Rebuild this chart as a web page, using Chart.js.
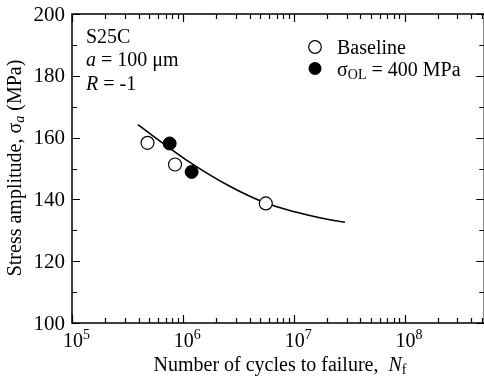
<!DOCTYPE html>
<html>
<head>
<meta charset="utf-8">
<script src="https://cdn.jsdelivr.net/npm/chart.js@4/dist/chart.umd.min.js"></script>
<style>
html,body{margin:0;padding:0;background:#fff;overflow:hidden;}
canvas{display:block;}
</style>
</head>
<body>
<canvas id="c" width="492" height="378"></canvas>
<script>
// ---- data ----
const baselineN = [4.8e5, 8.5e5, 5.6e6];
const baselineS = [158.3, 151.3, 138.7];
const overloadN = [7.6e5, 1.2e6];
const overloadS = [158.1, 148.9];
const fitN = [3.93e5, 6.6e5, 1.07e6, 2.6e6, 5.6e6, 1.04e7, 1.8e7, 2.9e7];
const fitS = [164.2, 158.2, 152.8, 144.4, 138.8, 135.9, 133.9, 132.6];
const yTickLabels = [100, 120, 140, 160, 180, 200];
const yMinorTicks = [110, 130, 150, 170, 190];
const xDecades = [5, 6, 7, 8];
const legendLabels = ['Baseline', 'σOL = 400 MPa'];

const FONT = '"Liberation Serif", "Times New Roman", serif';

function pts(xs, ys){ return xs.map((x,i)=>({x:x, y:ys[i]})); }

const decorPlugin = {
  id: 'decor',
  afterDraw(chart){
    const ctx = chart.ctx, ca = chart.chartArea;
    const xs = chart.scales.x, ys = chart.scales.y;
    ctx.save();
    ctx.strokeStyle = '#000'; ctx.fillStyle = '#000';
    ctx.lineWidth = 1.5;
    ctx.strokeRect(ca.left, ca.top, ca.right-ca.left, ca.bottom-ca.top);
    ctx.lineWidth = 1.2;
    const MAJ = 8, MIN = 5;
    function hTick(v, len){
      const y = Math.round(ys.getPixelForValue(v))+0.5;
      ctx.beginPath();
      ctx.moveTo(ca.left, y); ctx.lineTo(ca.left+len, y);
      ctx.moveTo(ca.right, y); ctx.lineTo(ca.right-len, y);
      ctx.stroke();
    }
    function vTick(v, len){
      const x = Math.round(xs.getPixelForValue(v))+0.5;
      if (x < ca.left-1 || x > ca.right+1) return;
      ctx.beginPath();
      ctx.moveTo(x, ca.bottom); ctx.lineTo(x, ca.bottom-len);
      ctx.moveTo(x, ca.top); ctx.lineTo(x, ca.top+len);
      ctx.stroke();
    }
    yTickLabels.forEach(v=>hTick(v, MAJ));
    yMinorTicks.forEach(v=>hTick(v, MIN));
    xDecades.forEach(d=>{
      vTick(Math.pow(10,d), MAJ);
      for (let m=2;m<=9;m++) vTick(m*Math.pow(10,d), MIN);
    });
    // y tick labels
    ctx.font = '21px ' + FONT;
    ctx.textAlign = 'right'; ctx.textBaseline = 'middle';
    yTickLabels.forEach(v=>{
      ctx.fillText(String(v), ca.left-7, ys.getPixelForValue(v)+1);
    });
    // x tick labels 10^n
    ctx.textBaseline = 'alphabetic';
    xDecades.forEach(d=>{
      const x = xs.getPixelForValue(Math.pow(10,d));
      ctx.font = '20px ' + FONT;
      ctx.textAlign = 'center';
      ctx.fillText('10', x+1, 347);
      const w = ctx.measureText('10').width;
      ctx.font = '14px ' + FONT;
      ctx.textAlign = 'left';
      ctx.fillText(String(d), x+1+w/2, 339);
    });
    function runs(parts, x, y, align){
      let total = 0;
      parts.forEach(p=>{ ctx.font = p.f; p.w = ctx.measureText(p.t).width; total += p.w; });
      let cx = align==='center' ? x-total/2 : x;
      ctx.textAlign = 'left';
      parts.forEach(p=>{ ctx.font = p.f; ctx.fillText(p.t, cx, y+(p.dy||0)); cx += p.w; });
    }
    const R = '20px ' + FONT, I = 'italic 20px ' + FONT, S = '14px ' + FONT;
    // x title
    runs([{t:'Number of cycles to failure,  ', f:R},{t:'N', f:I},{t:'f', f:S, dy:3}], 280, 371, 'center');
    // y title
    ctx.save();
    ctx.translate(21, 168);
    ctx.rotate(-Math.PI/2);
    runs([{t:'Stress amplitude, σ', f:R},{t:'a', f:'italic 14px '+FONT, dy:3},{t:' (MPa)', f:R}], 0, 0, 'center');
    ctx.restore();
    // annotations
    runs([{t:'S25C', f:R}], 86, 43, 'left');
    runs([{t:'a', f:I},{t:' = 100 μm', f:R}], 86, 66, 'left');
    runs([{t:'R', f:I},{t:' = -1', f:R}], 86, 90, 'left');
    // legend
    ctx.lineWidth = 1.2;
    ctx.beginPath(); ctx.arc(315, 47, 6.3, 0, Math.PI*2); ctx.fillStyle='#fff'; ctx.fill(); ctx.stroke();
    ctx.beginPath(); ctx.arc(315, 68.5, 6.5, 0, Math.PI*2); ctx.fillStyle='#000'; ctx.fill();
    ctx.fillStyle = '#000';
    runs([{t:legendLabels[0], f:R}], 337, 54, 'left');
    runs([{t:'σ', f:R},{t:'OL', f:S, dy:3},{t:' = 400 MPa', f:R}], 337, 76, 'left');
    ctx.restore();
  }
};

new Chart(document.getElementById('c'), {
  type: 'scatter',
  data: {
    datasets: [
      { label:'fit', type:'line', data: pts(fitN, fitS), borderColor:'#000', borderWidth:1.6,
        pointRadius:0, fill:false, cubicInterpolationMode:'monotone', order:3 },
      { label: legendLabels[0], data: pts(baselineN, baselineS), pointRadius:6.5,
        pointBackgroundColor:'#fff', pointBorderColor:'#000', pointBorderWidth:1.2, order:1 },
      { label: legendLabels[1], data: pts(overloadN, overloadS), pointRadius:6.5,
        pointBackgroundColor:'#000', pointBorderColor:'#000', pointBorderWidth:1, order:2 }
    ]
  },
  options: {
    responsive:false, animation:false, devicePixelRatio:1,
    layout:{ padding:{ left:0, top:14, right:5, bottom:0 } },
    plugins:{ legend:{display:false}, tooltip:{enabled:false} },
    scales:{
      x:{ type:'logarithmic', min:1e5, max:5.24e8,
          grid:{display:false}, border:{display:false}, ticks:{display:false},
          afterFit(s){ s.height = 55; } },
      y:{ type:'linear', min:100, max:200,
          grid:{display:false}, border:{display:false}, ticks:{display:false},
          afterFit(s){ s.width = 72; } }
    }
  },
  plugins:[decorPlugin]
});
</script>
</body>
</html>
